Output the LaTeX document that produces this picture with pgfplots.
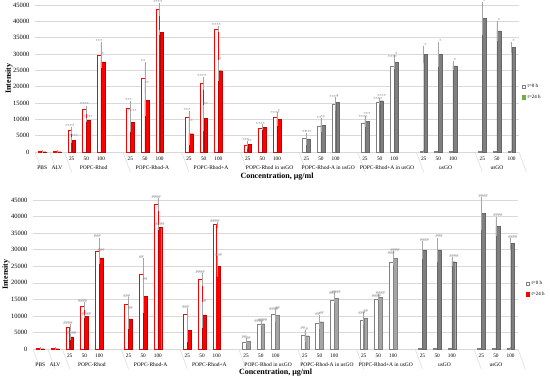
\documentclass[border=0pt]{standalone}
\usepackage{pgfplots}
\pgfplotsset{compat=1.18}
\usepackage{pgfplotstable}
\usepackage{fontspec}
\setmainfont{Liberation Serif}
\definecolor{myred}{HTML}{FF0000}
\definecolor{dgray}{HTML}{7F7F7F}
\definecolor{lgray}{HTML}{A5A5A5}
\definecolor{gridc}{HTML}{D9D9D9}
\definecolor{lgreen}{HTML}{70AD47}
\newcommand\tickf{\fontsize{6.5}{7}\selectfont}
\newcommand\catf{\fontsize{5.3}{6}\selectfont}
\newcommand\grpf{\fontsize{5.5}{6}\selectfont}
\newcommand\annf{\fontsize{4.5}{5}\selectfont}

\pgfplotstableread{
k  t0    e0   t24   e24
0  150   0    100   0
1  150   0    100   0
2  6500  700  3650  500
3  12950 900  9800  200
4  29500 3800 27550 1600
6  13450 1900 9100  2700
7  22550 4600 15900 4600
8  43700 1600 36650 400
10 10500 1600 5600  3200
11 21000 1700 10300 3600
12 37550 500  24900 2800
14 2050  800  2250  400
15 7350  400  7650  400
16 10600 700  10100 1700
18 4100  1400 4000  1400
19 7750  2000 8250  1800
20 14600 1600 15300 1100
22 8800  1300 9400  1400
23 15100 300  15700 600
24 26300 2000 27550 1800
26 150   0    29900 2300
27 150   0    29900 3400
28 150   0    26350 1000
30 200   0    40900 4600
31 150   0    37050 2600
32 150   0    31950 1300
}\data

\pgfplotsset{
  panel/.style={
    scale only axis, clip=false,
    xmin=-0.5, xmax=32.5, ymin=0, ymax=45000,
    axis line style={draw=none},
    ymajorgrids, grid style={gridc, line width=0.5pt},
    major tick length=0,
    ytick={0,5000,...,45000},
    scaled y ticks=false,
    /pgf/number format/assume math mode=true,
    yticklabel style={font=\tickf, xshift=-2pt, /pgf/number format/fixed, /pgf/number format/1000 sep={}},
    xtick={2,3,4,6,7,8,10,11,12,14,15,16,18,19,20,22,23,24,26,27,28,30,31,32},
    xticklabels={25,50,100,25,50,100,25,50,100,25,50,100,25,50,100,25,50,100,25,50,100,25,50,100},
    xticklabel style={font=\catf, anchor=base, yshift=-9pt},
    ylabel={Intensity},
    ylabel style={font=\bfseries\fontsize{8}{9}\selectfont, anchor=center},
    xlabel={Concentration, μg/ml},
    xlabel style={font=\bfseries\fontsize{8}{9}\selectfont, anchor=center},
    legend style={draw=none, fill=none, font=\fontsize{5}{6}\selectfont, anchor=north west, row sep=1.5pt, inner sep=0pt, legend cell align=left},
    legend image code/.code={\draw[#1] (0pt,-1.6pt) rectangle (3.2pt,1.6pt);},
  },
  errs/.style={error bars/y dir=both, error bars/y explicit,
    error bars/error bar style={gray!70, line width=0.4pt},
    error bars/error mark options={gray!70, mark size=1.2pt, line width=0.4pt}},
  bar0/.style={ybar, bar width=3.8pt, bar shift=-1.9pt, fill=white, line width=0.6pt, errs},
  bar24/.style={ybar, bar width=3.8pt, bar shift=1.9pt, line width=0.3pt, errs},
  ann0/.style={draw=none, mark=none, nodes near coords, point meta=explicit symbolic,
    nodes near coords style={font=\annf, text=gray, xshift=-1.9pt, anchor=south, inner sep=0.6pt}},
  ann24/.style={draw=none, mark=none, nodes near coords, point meta=explicit symbolic,
    nodes near coords style={font=\annf, text=gray, xshift=1.9pt, anchor=south, inner sep=0.6pt}},
}

\newcommand\groups{%
  \pgfplotsinvokeforeach{-0.5,0.5,1.5,5.5,9.5,13.5,17.5,21.5,25.5,29.5,32.5}{\draw[gridc, line width=0.5pt] (axis cs:##1,0) -- ++(0,-20pt);}
  \node[font=\grpf, anchor=base, yshift=-18pt] at (axis cs:0,0) {PBS};
  \node[font=\grpf, anchor=base, yshift=-18pt] at (axis cs:1,0) {ALV};
  \node[font=\grpf, anchor=base, yshift=-18pt] at (axis cs:3.5,0) {POPC-Rhod};
  \node[font=\grpf, anchor=base, yshift=-18pt] at (axis cs:7.5,0) {POPC-Rhod-A};
  \node[font=\grpf, anchor=base, yshift=-18pt] at (axis cs:11.5,0) {POPC-Rhod+A};
  \node[font=\grpf, anchor=base, yshift=-18pt] at (axis cs:15.5,0) {POPC-Rhod in usGO};
  \node[font=\grpf, anchor=base, yshift=-18pt] at (axis cs:19.5,0) {POPC-Rhod-A in usGO};
  \node[font=\grpf, anchor=base, yshift=-18pt] at (axis cs:23.5,0) {POPC-Rhod+A in usGO};
  \node[font=\grpf, anchor=base, yshift=-18pt] at (axis cs:27.5,0) {usGO};
  \node[font=\grpf, anchor=base, yshift=-18pt] at (axis cs:31,0) {usGO};
}

\begin{document}
\begin{tikzpicture}
\useasboundingbox (0,0) rectangle (550pt,382pt);
% ---------------- top panel ----------------
\begin{axis}[panel, at={(35pt,230pt)}, anchor=south west, width=484pt, height=147pt,
  ylabel style={at={(axis description cs:-0.0537,0.5)}},
  xlabel style={at={(axis description cs:0.5,-0.17)}},
  legend style={at={(rel axis cs:1.006,0.476)}}]
\addlegendimage{fill=white, draw=gray, line width=0.4pt}
\addlegendentry{t=0 h}
\addlegendimage{fill=lgreen, draw=lgreen, line width=0.4pt}
\addlegendentry{t=24 h}
\addplot[bar0, draw=myred, restrict x to domain=-1:16.5] table[x=k, y=t0, y error=e0]{\data};
\addplot[bar24, fill=myred, draw=red!75!black, restrict x to domain=-1:16.5] table[x=k, y=t24, y error=e24]{\data};
\addplot[bar0, draw=dgray, restrict x to domain=17:33] table[x=k, y=t0, y error=e0]{\data};
\addplot[bar24, fill=dgray, draw=dgray!80!black, restrict x to domain=17:33] table[x=k, y=t24, y error=e24]{\data};
\addplot[ann0] coordinates {(2,7200)[****] (3,13850)[****] (4,33300)[***] (6,15350)[***] (7,27150)[**] (8,45300)[****] (10,12100)[***] (11,22700)[****] (12,38050)[****] (14,2850)[***] (15,7750)[****] (16,11300)[****] (18,5500)[**] (19,9750)[**] (20,16200)[****] (22,10100)[****] (23,15400)[****] (24,28300)[****]};
\addplot[ann24] coordinates {(2,4150)[****] (3,10000)[****] (4,29150)[*] (6,11800)[****] (7,20500)[**] (10,8800)[**] (11,13900)[**] (12,27700)[*] (14,2650)[**] (16,11800)[*] (18,5400)[***] (19,10050)[**] (20,16400)[*] (22,10800)[***] (23,16300)[****] (24,29350)[*] (26,32200)[*] (27,33300)[*] (28,27350)[*] (30,45500)[*] (31,39650)[*] (32,33250)[*]};
\groups
\end{axis}
% ---------------- bottom panel ----------------
\begin{axis}[panel, at={(33pt,33pt)}, anchor=south west, width=485pt, height=149pt,
  ylabel style={at={(axis description cs:-0.0557,0.5)}},
  xlabel style={at={(axis description cs:0.5,-0.161)}},
  legend style={at={(rel axis cs:1.016,0.47)}}]
\addlegendimage{fill=white, draw=gray, line width=0.4pt}
\addlegendentry{t=0 h}
\addlegendimage{fill=myred, draw=myred, line width=0.4pt}
\addlegendentry{t=24 h}
\addplot[bar0, draw=myred, restrict x to domain=-1:12.5] table[x=k, y=t0, y error=e0]{\data};
\addplot[bar24, fill=myred, draw=red!75!black, restrict x to domain=-1:12.5] table[x=k, y=t24, y error=e24]{\data};
\addplot[bar0, draw=gray, restrict x to domain=13:24.5] table[x=k, y=t0, y error=e0]{\data};
\addplot[bar24, fill=lgray, draw=gray, restrict x to domain=13:24.5] table[x=k, y=t24, y error=e24]{\data};
\addplot[bar0, draw=dgray, restrict x to domain=25:33] table[x=k, y=t0, y error=e0]{\data};
\addplot[bar24, fill=dgray, draw=dgray!80!black, restrict x to domain=25:33] table[x=k, y=t24, y error=e24]{\data};
\addplot[ann0, nodes near coords style={font=\itshape\annf}] coordinates {(2,7200)[\#\#\#\#] (3,13850)[\#\#\#\#] (4,33300)[\#\#\#] (6,15350)[\#\#\#] (7,27150)[\#\#] (8,45300)[\#\#\#\#] (10,12100)[\#\#\#] (11,22700)[\#\#\#\#] (12,38050)[\#\#\#\#] (14,2850)[\#\#] (15,7750)[\#\#\#\#] (16,11300)[\#\#\#\#] (18,5500)[\#\#] (19,9750)[\#\#] (20,16200)[\#\#\#] (22,10100)[\#\#\#] (23,15400)[\#\#\#\#] (24,28300)[\#\#\#]};
\addplot[ann24, nodes near coords style={font=\itshape\annf}] coordinates {(2,4150)[\#\#\#\#] (3,10000)[\#\#\#\#] (4,29150)[\#\#\#] (6,11800)[\#\#] (7,20500)[\#\#] (8,37050)[\#\#\#\#] (11,13900)[\#\#] (12,27700)[\#\#\#] (14,2650)[\#\#] (15,8050)[\#\#\#\#] (16,11800)[\#\#] (18,5400)[\#] (19,10050)[\#\#] (20,16400)[\#\#\#\#] (22,10800)[\#\#] (23,16300)[\#\#\#\#] (24,29350)[\#\#\#\#] (26,32200)[\#\#\#\#] (27,33300)[\#\#\#] (28,27350)[\#\#\#\#] (30,45500)[\#\#\#\#] (31,39650)[\#\#\#\#] (32,33250)[\#\#\#\#]};
\groups
\end{axis}
\end{tikzpicture}
\end{document}
